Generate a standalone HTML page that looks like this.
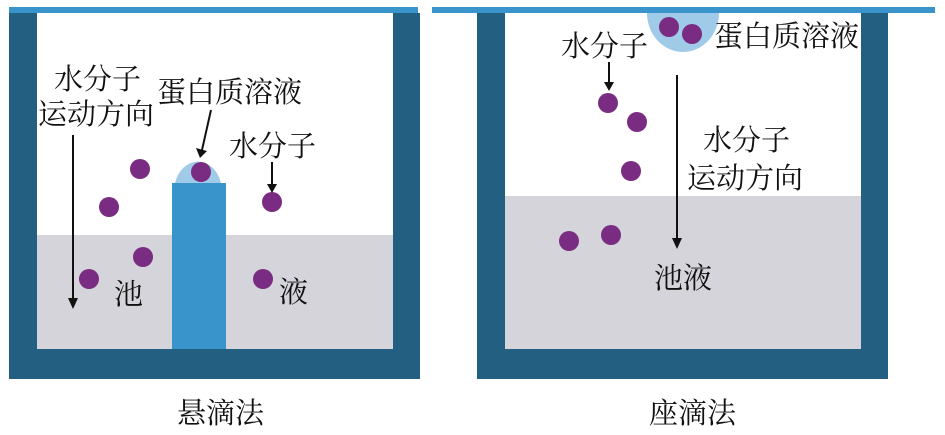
<!DOCTYPE html>
<html><head><meta charset="utf-8"><style>
body{margin:0;background:#fff;}
svg text{font-family:"Liberation Serif","Noto Serif CJK SC",serif;font-size:29px;fill:#111;}
</style></head><body>
<svg width="945" height="430" viewBox="0 0 945 430" xmlns="http://www.w3.org/2000/svg">
<!-- left -->
<rect x="9" y="13" width="411" height="366" fill="#235f80"/>
<rect x="37" y="13" width="356" height="336" fill="#fff"/>
<rect x="37" y="235" width="356" height="114" fill="#d4d4da"/>
<rect x="9" y="7" width="409" height="6" fill="#3a94cc"/>
<path d="M175,183 A24,30 0 0 1 221,183 Z" fill="#9fcbe8"/>
<rect x="172" y="183" width="54" height="166" fill="#3a94cc"/>
<g fill="#7a2c82">
<circle cx="140" cy="169" r="10"/><circle cx="109" cy="207" r="10"/><circle cx="143" cy="257" r="10"/><circle cx="89" cy="279" r="10"/><circle cx="201" cy="172" r="10"/><circle cx="272" cy="202" r="10"/><circle cx="263" cy="279" r="10"/>
</g>
<g stroke="#111" stroke-width="2" fill="none">
<line x1="73" y1="135" x2="73" y2="300"/><line x1="211" y1="110" x2="202" y2="150"/><line x1="272" y1="162" x2="272" y2="185"/>
</g>
<g fill="#111">
<path d="M68,298 L78,298 L73,309 Z"/><path d="M196,148 L207,151 L200,158 Z"/><path d="M267,184 L277,184 L272,193 Z"/>
</g>
<text x="54" y="89">水分子</text>
<text x="38" y="124">运动方向</text>
<text x="157" y="102">蛋白质溶液</text>
<text x="229" y="156">水分子</text>
<text x="114" y="304">池</text>
<text x="279" y="302">液</text>
<text x="177" y="423">悬滴法</text>
<!-- right -->
<rect x="477" y="13" width="411" height="366" fill="#235f80"/>
<rect x="505" y="13" width="356" height="336" fill="#fff"/>
<rect x="505" y="196" width="356" height="153" fill="#d4d4da"/>
<rect x="432" y="7" width="503" height="6" fill="#3a94cc"/>
<path d="M647,13 A36,39 0 0 0 719,13 Z" fill="#9fcbe8"/>
<g fill="#7a2c82">
<circle cx="669" cy="27" r="10"/><circle cx="692" cy="34" r="10"/><circle cx="608" cy="103" r="10"/><circle cx="637" cy="122" r="10"/><circle cx="631" cy="171" r="10"/><circle cx="569" cy="241" r="10"/><circle cx="611" cy="235" r="10"/>
</g>
<g stroke="#111" stroke-width="2" fill="none">
<line x1="609" y1="62" x2="609" y2="83"/><line x1="677" y1="75" x2="677" y2="240"/>
</g>
<g fill="#111">
<path d="M604,82 L614,82 L609,91 Z"/><path d="M672,238 L682,238 L677,249 Z"/>
</g>
<text x="561" y="56">水分子</text>
<text x="714" y="46">蛋白质溶液</text>
<text x="703" y="150">水分子</text>
<text x="687" y="188">运动方向</text>
<text x="654" y="288">池液</text>
<text x="649" y="423">座滴法</text>
</svg>
</body></html>
